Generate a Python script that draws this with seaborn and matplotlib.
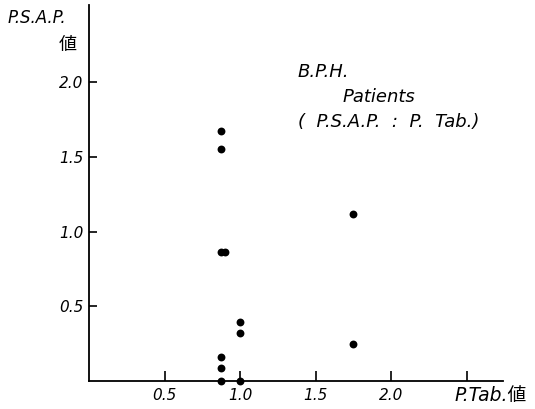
import matplotlib
matplotlib.use("Agg")
import matplotlib.pyplot as plt
import seaborn as sns
import pandas as pd

# B.P.H. patients, P.Tab. value vs P.S.A.P. value
p_tab = [0.87, 0.87, 0.87, 0.90, 1.00, 1.00, 0.87, 0.87, 0.87, 1.00, 1.75, 1.75]
psap = [1.67, 1.55, 0.86, 0.86, 0.395, 0.32, 0.16, 0.087, 0.0, 0.0, 1.12, 0.25]

x_ticks = [0.5, 1.0, 1.5, 2.0, 2.5]
x_tick_labels = ["0.5", "1.0", "1.5", "2.0", ""]
y_ticks = [0.5, 1.0, 1.5, 2.0]
y_tick_labels = ["0.5", "1.0", "1.5", "2.0"]

df = pd.DataFrame({"ptab": p_tab, "psap": psap})

sns.set_style("ticks")
fam = ["DejaVu Sans", "Noto Sans CJK JP"]
plt.rcParams["font.family"] = fam
plt.rcParams["text.color"] = "black"

fig = plt.figure(figsize=(5.35, 4.09), dpi=100)
ax = fig.add_axes([0.1664, 0.0685, 0.774, 0.919])

sns.scatterplot(data=df, x="ptab", y="psap", color="black", s=32,
                edgecolor="black", linewidth=0, ax=ax, clip_on=False, zorder=3)

ax.set_xlim(0, 2.74)
ax.set_ylim(0, 2.515)
sns.despine(ax=ax)
for sp in ["left", "bottom"]:
    ax.spines[sp].set_color("black")
    ax.spines[sp].set_linewidth(1.3)

ax.set_xticks(x_ticks)
ax.set_xticklabels(x_tick_labels, fontstyle="italic", fontsize=11)
ax.set_yticks(y_ticks)
ax.set_yticklabels(y_tick_labels, fontstyle="italic", fontsize=11)
ax.tick_params(axis="x", direction="in", length=7, width=1.2, colors="black", pad=5)
ax.tick_params(axis="y", direction="in", length=6, width=1.2, colors="black", pad=4)
ax.set_xlabel("")
ax.set_ylabel("")

# axis labels
fig.text(0.015, 0.955, "P.S.A.P.", fontstyle="italic", fontsize=12,
         ha="left", va="center", color="black")
fig.text(0.127, 0.89, "値", fontsize=13, family=["Noto Sans CJK JP"],
         ha="center", va="center", color="black")
fig.text(0.85, 0.032, "P.Tab.値", fontstyle="italic", fontsize=13.5,
         ha="left", va="center", color="black")

# annotation
ax.text(1.38, 2.07, "B.P.H.", fontstyle="italic", fontsize=13, ha="left",
        va="center", color="black")
ax.text(1.68, 1.90, "Patients", fontstyle="italic", fontsize=13, ha="left",
        va="center", color="black")
ax.text(1.38, 1.73, "(  P.S.A.P.  :  P.  Tab.)", fontstyle="italic", fontsize=13,
        ha="left", va="center", color="black")

fig.savefig("out.png", dpi=100, facecolor="white")
